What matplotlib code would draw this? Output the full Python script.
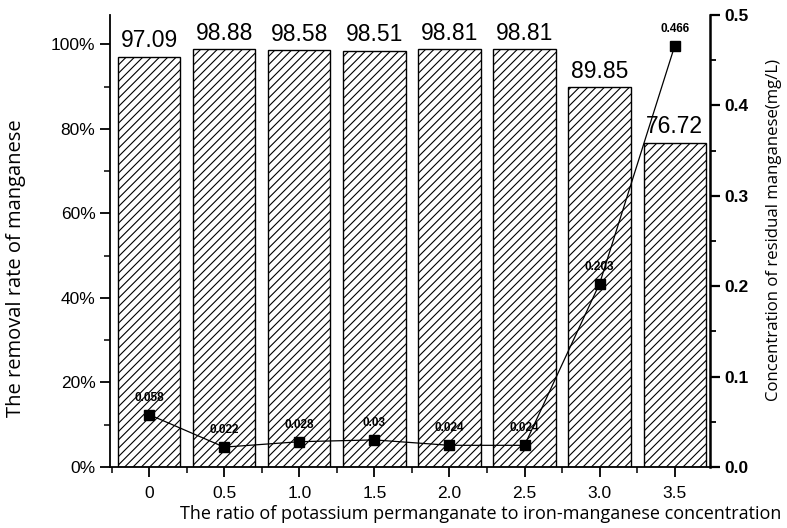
import matplotlib.pyplot as plt
from matplotlib.ticker import FixedLocator, MultipleLocator

plt.rcParams['font.family'] = ['Liberation Sans', 'DejaVu Sans']
plt.rcParams['hatch.linewidth'] = 0.8

ratios = ["0", "0.5", "1.0", "1.5", "2.0", "2.5", "3.0", "3.5"]
removal_rate = [97.09, 98.88, 98.58, 98.51, 98.81, 98.81, 89.85, 76.72]
residual_mn = [0.058, 0.022, 0.028, 0.03, 0.024, 0.024, 0.203, 0.466]
residual_labels = ["0.058", "0.022", "0.028", "0.03", "0.024", "0.024", "0.203", "0.466"]

fig = plt.figure(figsize=(7.87, 5.28), dpi=100)
ax = fig.add_axes([0.1398, 0.1155, 0.7624, 0.856])

x = list(range(len(ratios)))
bars = ax.bar(x, removal_rate, width=0.83, color='white', edgecolor='black',
              linewidth=1.0, hatch='////')
for xi, v in zip(x, removal_rate):
    ax.text(xi, v + 1.0, f"{v:.2f}", ha='center', va='bottom', fontsize=16.5)

ax.set_xlim(-0.52, 7.47)
ax.set_ylim(0, 106.9)
ax.set_xticks(x)
ax.set_xticklabels(ratios, fontsize=12.5)
ax.xaxis.set_minor_locator(FixedLocator([i + 0.5 for i in range(-1, 8)]))
ax.set_yticks([0, 20, 40, 60, 80, 100])
ax.set_yticklabels(["0%", "20%", "40%", "60%", "80%", "100%"], fontsize=12.5)
ax.yaxis.set_minor_locator(MultipleLocator(10))
ax.tick_params(which='major', direction='out', length=7, width=1.3)
ax.tick_params(which='minor', direction='out', length=4, width=1.1)
ax.tick_params(axis='x', which='major', pad=7)
ax.spines['top'].set_visible(False)
ax.spines['right'].set_visible(False)
for s in ['left', 'bottom']:
    ax.spines[s].set_linewidth(1.3)
ax.set_xlabel("The ratio of potassium permanganate to iron-manganese concentration",
              fontsize=13, family='Open Sans')
ax.xaxis.set_label_coords(0.617, -0.085)
ax.set_ylabel("The removal rate of manganese", fontsize=14.5, family='Open Sans')
ax.yaxis.set_label_coords(-0.14, 0.44)

ax2 = ax.twinx()
ax2.plot(x, residual_mn, color='black', linewidth=0.9, marker='s', markersize=7)
for xi, v, lab in zip(x, residual_mn, residual_labels):
    ax2.text(xi, v + 0.012, lab, ha='center', va='bottom', fontsize=8.5, fontweight='bold')
ax2.set_ylim(0, 0.5)
ax2.set_yticks([0.0, 0.1, 0.2, 0.3, 0.4, 0.5])
ax2.yaxis.set_minor_locator(MultipleLocator(0.05))
ax2.tick_params(axis='y', labelsize=12.5)
ax2.tick_params(which='major', direction='out', length=7, width=1.6)
ax2.tick_params(which='minor', direction='out', length=4, width=1.3)
for lab in ax2.get_yticklabels():
    lab.set_fontweight('bold')
ax2.spines['top'].set_visible(False)
ax2.spines['left'].set_visible(False)
ax2.spines['bottom'].set_visible(False)
ax2.spines['right'].set_linewidth(1.8)
ax2.set_ylabel("Concentration of residual manganese(mg/L)", fontsize=12.1, family='Open Sans')
ax2.yaxis.set_label_coords(1.093, 0.524)

fig.savefig("out.png", dpi=100)
